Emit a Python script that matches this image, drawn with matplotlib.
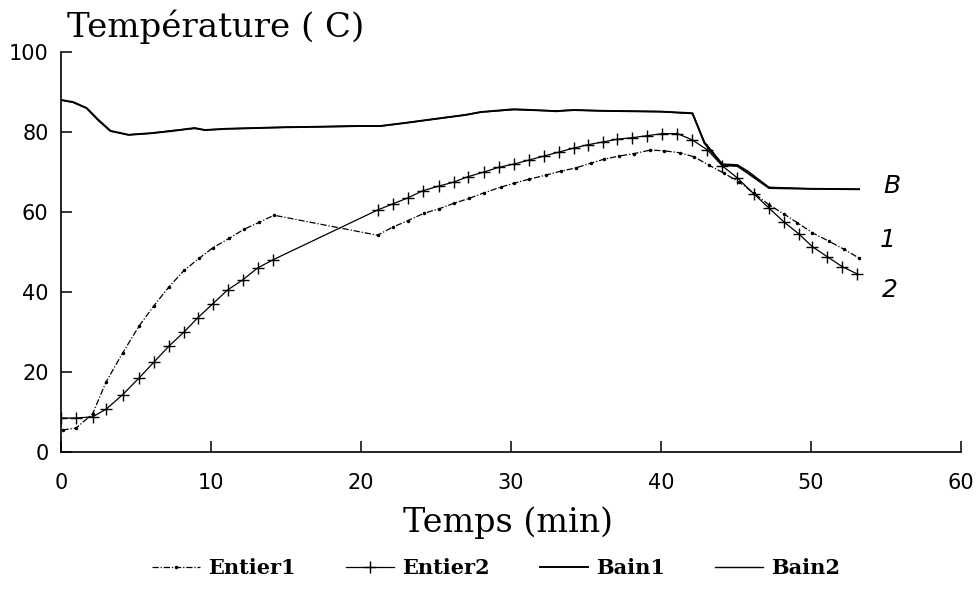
import matplotlib.pyplot as plt

# core temperature, probe 1 (min, deg C)
t_entier1 = [0.1, 1.0, 2.1, 3.0, 4.1, 5.2, 6.2, 7.2, 8.2, 9.2, 10.1, 11.2, 12.2, 13.2, 14.2,
             21.1, 22.1, 23.1, 24.2, 25.2, 26.2, 27.2, 28.2, 29.3, 30.2, 31.2, 32.3, 33.3,
             34.3, 35.3, 36.2, 37.2, 38.2, 39.3, 40.2, 41.3, 42.2, 43.2, 44.2, 45.2, 46.2,
             47.2, 48.2, 49.1, 50.1, 51.2, 52.2, 53.2]
entier1 = [5.5, 6.0, 9.5, 17.5, 24.7, 31.5, 36.6, 41.3, 45.4, 48.4, 51.0, 53.4, 55.7, 57.4, 59.2,
           54.2, 56.2, 57.8, 59.7, 60.8, 62.2, 63.4, 64.8, 66.2, 67.2, 68.2, 69.2, 70.2,
           71.0, 72.2, 73.2, 74.0, 74.6, 75.5, 75.3, 74.8, 73.8, 71.7, 69.7, 67.5, 64.7,
           61.8, 59.5, 57.3, 54.8, 52.7, 50.7, 48.5]

# core temperature, probe 2
t_entier2 = [0.0, 1.0, 2.1, 3.0, 4.1, 5.2, 6.2, 7.2, 8.2, 9.1, 10.1, 11.1, 12.1, 13.1, 14.1,
             21.1, 22.1, 23.1, 24.1, 25.2, 26.2, 27.1, 28.2, 29.2, 30.2, 31.2, 32.2, 33.2,
             34.2, 35.1, 36.1, 37.1, 38.1, 39.1, 40.1, 41.1, 42.1, 43.1, 44.1, 45.1, 46.2,
             47.2, 48.2, 49.2, 50.1, 51.1, 52.1, 53.1]
entier2 = [8.5, 8.5, 8.8, 10.7, 14.3, 18.5, 22.5, 26.5, 30.0, 33.5, 37.0, 40.5, 43.0, 46.0, 48.0,
           60.5, 62.0, 63.5, 65.3, 66.5, 67.5, 68.8, 70.0, 71.2, 72.0, 73.0, 74.0, 75.0,
           76.0, 76.8, 77.5, 78.2, 78.6, 79.1, 79.6, 79.6, 78.0, 75.5, 71.5, 68.5, 64.5,
           61.0, 57.5, 54.5, 51.3, 48.8, 46.3, 44.5]

# water bath temperature
t_bain = [0.0, 0.8, 1.7, 2.5, 3.3, 4.5, 6.0, 7.5, 8.9, 9.6, 11.0, 13.0, 15.0, 17.0, 19.3,
          21.3, 23.0, 25.0, 27.0, 28.0, 30.2, 32.0, 33.0, 34.2, 36.0, 40.0, 42.1, 42.9,
          44.1, 45.1, 45.8, 47.2, 50.0, 53.2]
bain1 = [88.0, 87.5, 86.0, 83.0, 80.3, 79.3, 79.7, 80.3, 81.0, 80.5, 80.8, 81.0, 81.2, 81.3, 81.5,
         81.5, 82.3, 83.3, 84.3, 85.0, 85.7, 85.4, 85.2, 85.5, 85.3, 85.1, 84.7, 77.2,
         71.7, 71.5, 69.7, 66.0, 65.8, 65.7]
bain2 = [88.0, 87.4, 86.0, 82.8, 80.2, 79.3, 79.7, 80.4, 80.9, 80.5, 80.8, 81.0, 81.2, 81.3, 81.4,
         81.5, 82.3, 83.3, 84.3, 85.0, 85.6, 85.4, 85.3, 85.5, 85.3, 85.1, 84.6, 77.5,
         72.0, 71.8, 70.2, 66.2, 65.8, 65.7]

x_ticks = [0, 10, 20, 30, 40, 50, 60]
y_ticks = [0, 20, 40, 60, 80, 100]

fig = plt.figure(figsize=(9.78, 5.98), dpi=100)
ax = fig.add_axes([0.0624, 0.2441, 0.9202, 0.6689])

ax.plot(t_entier1, entier1, color="black", lw=0.9, ls=(0, (5, 1.5, 1, 1.5)),
        marker=".", ms=3, label="Entier1")
ax.plot(t_entier2, entier2, color="black", lw=0.9, marker="+", ms=9, mew=1.0,
        label="Entier2")
ax.plot(t_bain, bain1, color="black", lw=1.4, label="Bain1")
ax.plot(t_bain, bain2, color="black", lw=1.0, label="Bain2")

ax.set_xlim(0, 60)
ax.set_ylim(0, 100)
ax.set_xticks(x_ticks)
ax.set_yticks(y_ticks)
for side in ("top", "right"):
    ax.spines[side].set_visible(False)
for side in ("left", "bottom"):
    ax.spines[side].set_linewidth(1.2)
ax.tick_params(direction="in", length=8, width=1.1, labelsize=15)
ax.tick_params(axis="x", pad=15)
ax.tick_params(axis="y", pad=9)
for lab in ax.get_xticklabels() + ax.get_yticklabels():
    lab.set_fontweight("medium")

# hand-written curve tags
hand = dict(fontsize=18, fontstyle="italic", fontweight="light", color="black")
ax.text(54.8, 66.5, "B", va="center", **hand)
ax.text(54.6, 53.0, "1", va="center", **hand)
ax.text(54.7, 40.5, "2", va="center", **hand)

fig.text(67 / 978, 1 - 37 / 598, "Température ( C)", va="baseline",
         fontsize=24.5, family="DejaVu Serif")
fig.text(508 / 978, 1 - 523 / 598, "Temps (min)", ha="center", va="center",
         fontsize=24, family="DejaVu Serif")

fig.legend(loc="center", bbox_to_anchor=(496 / 978, 1 - 568 / 598), ncol=4,
           frameon=False, numpoints=1, handlelength=2.3, handletextpad=0.4,
           columnspacing=2.4,
           prop=dict(family="DejaVu Serif", weight="bold", size=15))

fig.savefig("out.png", dpi=100)
